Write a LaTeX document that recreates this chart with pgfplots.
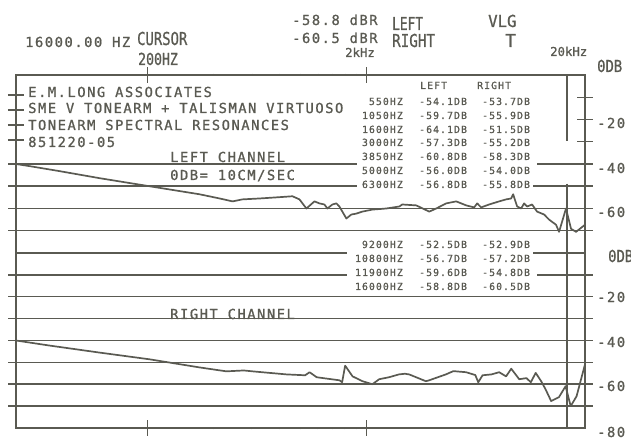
\documentclass[border=0pt]{standalone}
\usepackage{pgfplots}
\pgfplotsset{compat=1.18}
\usepackage{fontspec}
\newfontfamily\pf[LetterSpace=11, FakeBold=1]{DejaVu Sans Mono}
\newfontfamily\hf[FakeBold=1]{DejaVu Sans Mono}
\definecolor{ink}{RGB}{90,90,82}

\pgfplotsset{
  rta/.style={scale only axis, width=569pt, xmin=50, xmax=20000,
    ymin=-80, ymax=0, axis line style={draw=none},
    xtick={200,2000}, xticklabels={}, minor xtick={}, yticklabels={},
    ytick={-70,-60,...,-10},
    major tick length=16pt, tick align=center,
    tick style={ink, line width=1.5pt}, clip=false}
}

% left channel, dB re 10 cm/s
\pgfplotstableread{
f db
50 -40
58 -41
79 -43.2
121 -46.4
204 -50
345 -53.6
427 -55.5
489 -56.8
543 -55.9
649 -55.5
776 -55
919 -54.5
989 -55.9
1064 -60
1158 -56.8
1220 -57.7
1286 -58.2
1327 -60
1399 -58.2
1459 -57.7
1506 -59.1
1621 -64.5
1708 -62.7
1800 -62.3
1918 -61.4
2130 -60.5
2468 -60
2830 -59.1
2920 -58.2
3384 -58.6
3880 -61.4
4174 -60
4638 -57.7
5152 -56.8
5724 -58.6
6226 -59.5
6426 -57.7
6700 -59.5
7288 -58.2
8100 -56.8
8720 -55.9
9190 -55.5
9380 -53.6
9790 -59.1
10210 -60
10530 -57.7
10870 -59.1
11460 -58.2
12070 -61.4
13000 -62.7
13700 -65
14740 -67.3
15220 -70.5
16370 -60
17260 -69.1
18200 -70.5
20000 -67.3
}\leftch

% right channel
\pgfplotstableread{
f db
50 -40
71 -42.3
120 -45.5
204 -48.6
345 -52.3
458 -54.1
550 -53.7
603 -54.1
862 -55.5
1050 -55.9
1100 -54.5
1186 -56.8
1508 -58.2
1550 -59.1
1600 -51.5
1730 -56.4
1920 -58.6
2130 -60
2290 -57.7
2540 -56.8
2820 -55.5
3000 -55.2
3140 -55.5
3740 -58.6
3850 -58.3
4620 -55.5
5000 -54.0
5720 -54.5
6300 -55.8
6500 -59.1
6800 -55.9
7470 -55.5
8100 -54.5
8710 -56.4
9200 -52.9
10000 -57.7
10800 -57.2
11300 -59.1
11900 -54.8
12600 -58.6
13200 -62.3
14000 -67.7
15200 -65.9
16300 -60.9
17200 -70
18300 -65.5
20000 -50.9
}\rightch

\begin{document}
\begin{tikzpicture}[
  gl/.style={ink, line width=1.5pt},
  cv/.style={ink, line width=1.7pt, line join=round},
  m/.style={font=\pf\fontsize{13.8}{14}\selectfont, text=ink, inner sep=0pt, anchor=base west},
  tb/.style={font=\pf\fontsize{9.8}{10}\selectfont, text=ink, inner sep=0pt},
  lab/.style={font=\pf\fontsize{13.8}{14}\selectfont, text=ink, inner sep=0pt, anchor=west},
]
\path[use as bounding box] (-16pt,-10pt) rectangle (615pt,428pt);

% upper panel: left channel
\begin{semilogxaxis}[rta, at={(0pt,175pt)}, anchor=south west, height=178pt,
    xtick pos=right, ytick pos=right]
  \draw[gl] (rel axis cs:0,0) -- (rel axis cs:0,1) -- (rel axis cs:1,1) -- (rel axis cs:1,0);
  \draw[gl] ([xshift=-8pt]rel axis cs:0,0.5) -- (rel axis cs:0.599,0.5);
  \draw[gl] (rel axis cs:0.916,0.5) -- (rel axis cs:1,0.5);
  \draw[gl] ([xshift=-8pt]rel axis cs:0,0.375) -- (rel axis cs:0.599,0.375);
  \draw[gl] (rel axis cs:0.909,0.375) -- (rel axis cs:1,0.375);
  \draw[gl] ([xshift=-8pt]rel axis cs:0,0.25) -- (rel axis cs:1,0.25);
  \draw[gl] ([xshift=-8pt]rel axis cs:0,0.125) -- (rel axis cs:1,0.125);
  \draw[gl] (rel axis cs:0.968,1) -- (rel axis cs:0.968,0.63);
  \draw[gl] (rel axis cs:0.968,0.39) -- (rel axis cs:0.968,0);
  \addplot[cv] table {\leftch};
\end{semilogxaxis}
% left-hand ticks beside the title lines
\draw[gl] (-8pt,333pt) -- (8pt,333pt);
\draw[gl] (-8pt,318pt) -- (8pt,318pt);
\draw[gl] (-8pt,303pt) -- (8pt,303pt);
\draw[gl] (-8pt,288pt) -- (8pt,288pt);

% lower panel: right channel
\begin{semilogxaxis}[rta, at={(0pt,0pt)}, anchor=south west, height=175pt, xtick pos=left]
  \draw[gl] (rel axis cs:0,1) -- (rel axis cs:0,0) -- (rel axis cs:1,0) -- (rel axis cs:1,1);
  \draw[gl] (rel axis cs:0,1) -- (rel axis cs:0.582,1);
  \draw[gl] (rel axis cs:0.909,1) -- (rel axis cs:1,1);
  \draw[gl] (rel axis cs:0,0.875) -- (rel axis cs:0.582,0.875);
  \draw[gl] (rel axis cs:0.916,0.875) -- (rel axis cs:1,0.875);
  \draw[gl] (rel axis cs:0,0.75) -- (rel axis cs:1,0.75);
  \draw[gl] (rel axis cs:0,0.625) -- (rel axis cs:1,0.625);
  \draw[gl] (rel axis cs:0,0.5) -- (rel axis cs:1,0.5);
  \draw[gl] (rel axis cs:0,0.375) -- (rel axis cs:1,0.375);
  \draw[gl] (rel axis cs:0,0.25) -- (rel axis cs:1,0.25);
  \draw[gl] (rel axis cs:0,0.125) -- (rel axis cs:1,0.125);
  \draw[gl] (rel axis cs:0.968,1) -- (rel axis cs:0.968,0);
  \addplot[cv] table {\rightch};
\end{semilogxaxis}

% header
\node[m] at (9pt,381pt) {16000.00 HZ};
\node[anchor=base west, inner sep=0pt, text=ink, font=\hf\fontsize{17.8}{18}\selectfont, xscale=0.78] at (121pt,383pt) {CURSOR};
\node[anchor=base west, inner sep=0pt, text=ink, font=\hf\fontsize{16.5}{17}\selectfont, xscale=0.8] at (122pt,363pt) {200HZ};
\node[m] at (276pt,403pt) {-58.8 dBR};
\node[m] at (276pt,385pt) {-60.5 dBR};
\node[anchor=base west, inner sep=0pt, text=ink, font=\hf\fontsize{12.3}{13}\selectfont] at (329pt,371pt) {2kHz};
\node[anchor=base west, inner sep=0pt, text=ink, font=\hf\fontsize{17.8}{18}\selectfont, xscale=0.72] at (376pt,398pt) {LEFT};
\node[anchor=base west, inner sep=0pt, text=ink, font=\hf\fontsize{17.8}{18}\selectfont, xscale=0.8] at (376pt,381pt) {RIGHT};
\node[anchor=base west, inner sep=0pt, text=ink, font=\hf\fontsize{16.5}{17}\selectfont, xscale=0.95] at (472pt,401pt) {VLG};
\node[anchor=base west, inner sep=0pt, text=ink, font=\hf\fontsize{17.8}{18}\selectfont] at (489pt,381pt) {T};
\node[anchor=base west, inner sep=0pt, text=ink, font=\hf\fontsize{12.3}{13}\selectfont] at (534pt,372pt) {20kHz};

% dB labels
\node[anchor=base west, inner sep=0pt, text=ink, font=\hf\fontsize{16.5}{17}\selectfont, xscale=0.84] at (581pt,356pt) {0DB};
\node[lab] at (581pt,305pt) {-20};
\node[lab] at (581pt,260pt) {-40};
\node[lab] at (581pt,216pt) {-60};
\node[anchor=west, inner sep=0pt, text=ink, font=\hf\fontsize{16.5}{17}\selectfont, xscale=0.84] at (592pt,172pt) {0DB};
\node[lab] at (581pt,131pt) {-20};
\node[lab] at (581pt,86pt) {-40};
\node[lab] at (581pt,42pt) {-60};
\node[lab] at (581pt,-4pt) {-80};

% title block
\node[m] at (12pt,331pt) {E.M.LONG ASSOCIATES};
\node[m] at (12pt,315pt) {SME V TONEARM + TALISMAN VIRTUOSO};
\node[m] at (12pt,298pt) {TONEARM SPECTRAL RESONANCES};
\node[m] at (12pt,281pt) {851220-05};
\node[m] at (154pt,266pt) {LEFT CHANNEL};
\node[m] at (154pt,248pt) {0DB= 10CM/SEC};
\node[m] at (154pt,109pt) {RIGHT CHANNEL};

% resonance tables
\node[tb, anchor=base west] at (404pt,339pt) {LEFT};
\node[tb, anchor=base west] at (461pt,339pt) {RIGHT};
\foreach \y/\fq/\l/\r in {323/550/-54.1/-53.7, 309/1050/-59.7/-55.9, 295/1600/-64.1/-51.5,
    282/3000/-57.3/-55.2, 268/3850/-60.8/-58.3, 254/5000/-56.0/-54.0, 240/6300/-56.8/-55.8,
    180/9200/-52.5/-52.9, 166/10800/-56.7/-57.2, 152/11900/-59.6/-54.8, 138/16000/-58.8/-60.5} {
  \node[tb, anchor=base east] at (387pt,\y pt) {\fq HZ};
  \node[tb, anchor=base west] at (403pt,\y pt) {\l DB};
  \node[tb, anchor=base west] at (466pt,\y pt) {\r DB};
}
\end{tikzpicture}
\end{document}
